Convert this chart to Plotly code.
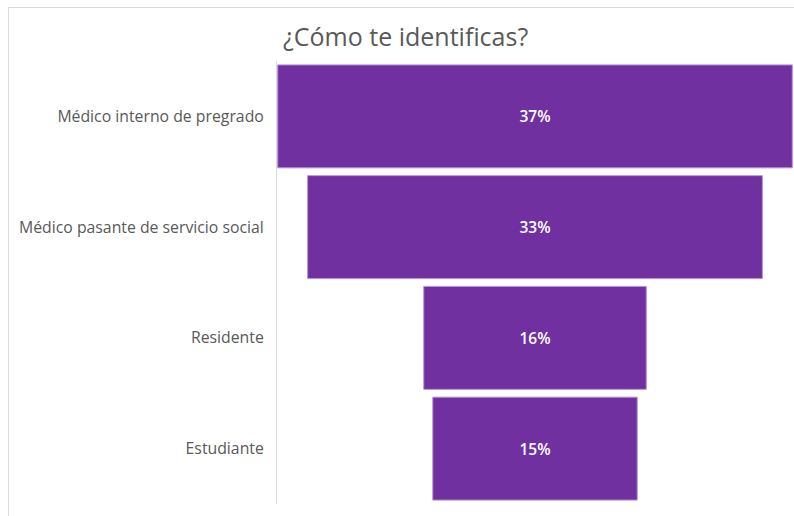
import plotly.graph_objects as go

categories = ["Médico interno de pregrado", "Médico pasante de servicio social", "Residente", "Estudiante"]
values = [37.0, 32.7, 16.0, 14.7]
labels = ["37%", "33%", "16%", "15%"]

W, H = 794, 516
L, R, T, B = 277, 1, 61, 12
pw, ph = W - L - R, H - T - B

def px_x(x):
    return (x - L) / pw

def px_y(y):
    return (H - B - y) / ph

fig = go.Figure(go.Funnel(
    y=categories,
    x=values,
    text=labels,
    textinfo="text",
    textposition="inside",
    insidetextanchor="middle",
    textfont=dict(color="white", size=15.5, family="Open Sans", weight=600),
    marker=dict(color="#7030A0", line=dict(color="#B695D2", width=1)),
    connector=dict(visible=False),
    hoverinfo="skip",
))

fig.update_layout(
    width=W, height=H,
    margin=dict(l=L, r=R, t=T, b=B),
    paper_bgcolor="white", plot_bgcolor="white",
    showlegend=False,
    funnelgap=0.07,
    title=dict(text="¿Cómo te identificas?", x=283 / W, xanchor="left",
               y=1 - 37 / H, yanchor="middle",
               font=dict(family="Open Sans", size=25, color="#595959")),
    xaxis=dict(visible=False, range=[-18.55, 18.55]),
    yaxis=dict(showline=True, linecolor="#D9D9D9", linewidth=1, ticks="outside",
               ticklen=9, tickcolor="rgba(0,0,0,0)",
               tickfont=dict(family="Open Sans", size=15.8, color="#595959"),
               showgrid=False, zeroline=False),
    shapes=[
        dict(type="line", xref="paper", yref="paper", x0=px_x(8), x1=px_x(W), y0=px_y(7.5), y1=px_y(7.5),
             line=dict(color="#D9D9D9", width=1)),
        dict(type="line", xref="paper", yref="paper", x0=px_x(8.5), x1=px_x(8.5), y0=px_y(7), y1=px_y(H),
             line=dict(color="#D9D9D9", width=1)),
    ],
)

fig.write_html(
    "out.html",
    config={"displayModeBar": False},
    post_script="document.body.style.margin='0';document.body.style.overflow='hidden';",
)
